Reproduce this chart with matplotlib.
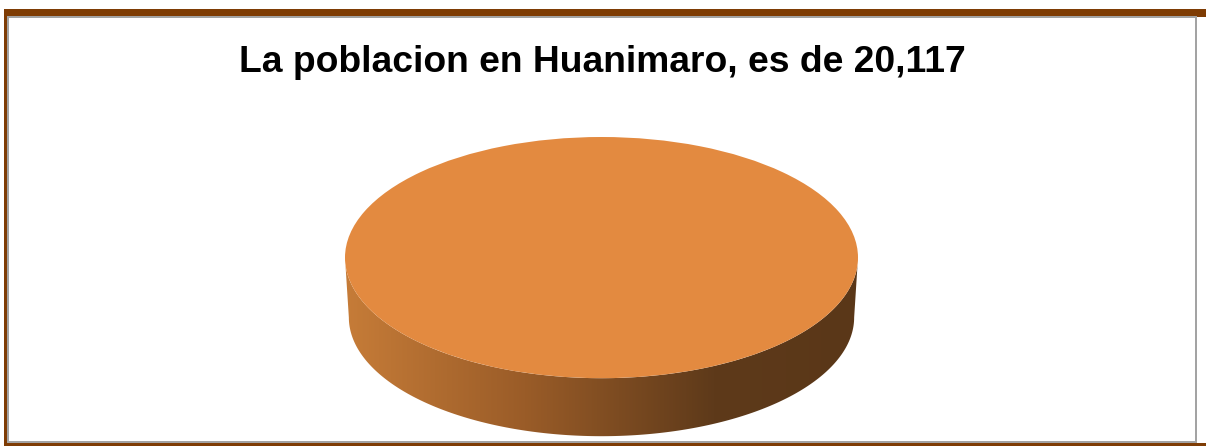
import matplotlib
matplotlib.use("Agg")
import matplotlib.pyplot as plt
import numpy as np
from matplotlib.patches import Rectangle, Polygon
from matplotlib.colors import LinearSegmentedColormap

# datos
categorias = ["Huanimaro"]
poblacion = [20117]
titulo = "La poblacion en Huanimaro, es de 20,117"

W, H = 1206, 446
fig = plt.figure(figsize=(W / 100, H / 100), dpi=100)
fig.patch.set_facecolor("white")

# marco de fondo en pixeles
fondo = fig.add_axes([0, 0, 1, 1])
fondo.set_xlim(0, W)
fondo.set_ylim(H, 0)
fondo.axis("off")
cafe = "#7E3C04"
gris = "#A3A3A3"
fondo.add_patch(Rectangle((4, 9), W - 4, 8, color=cafe, lw=0))
fondo.add_patch(Rectangle((4, 9), 4, H - 9, color=cafe, lw=0))
fondo.add_patch(Rectangle((4, 443), W - 4, 3, color=cafe, lw=0))
fondo.add_patch(Rectangle((8, 16), 1189, 2, color=gris, lw=0))
fondo.add_patch(Rectangle((7, 16), 2, 427, color=gris, lw=0))
fondo.add_patch(Rectangle((1195, 16), 2, 427, color=gris, lw=0))
fondo.add_patch(Rectangle((8, 441), 1189, 2, color=gris, lw=0))

fondo.text(602, 63, titulo, ha="center", va="center", fontsize=26.8,
           fontweight="bold", family=["Liberation Sans", "DejaVu Sans"])

# pastel 3D (elipse con lado)
x0, x1 = 345, 858
y_top, y_bot = 137, 438
prof = 0.496  # grosor del lado en unidades del eje (radio vertical = 1)
ax = fig.add_axes([x0 / W, 1 - y_bot / H, (x1 - x0) / W, (y_bot - y_top) / H])
ax.set_xlim(-1, 1)
ax.set_ylim(-1 - prof, 1)
ax.axis("off")

# lado con degradado (un poco mas angosto abajo por la perspectiva)
t = np.linspace(np.pi, 2 * np.pi, 200)
borde_sup = np.column_stack([np.cos(t), np.sin(t)])
borde_inf = np.column_stack([0.985 * np.cos(t[::-1]), 0.985 * np.sin(t[::-1]) - prof])
lado = Polygon(np.vstack([borde_sup, borde_inf]), closed=True,
               transform=ax.transData, facecolor="none", edgecolor="none")
ax.add_patch(lado)
cmap = LinearSegmentedColormap.from_list(
    "lado", [(0, "#C67C38"), (0.35, "#9A5C28"), (0.72, "#5E3A1A"), (1, "#5A3718")])
grad = np.linspace(0, 1, 256).reshape(1, -1)
img = ax.imshow(grad, cmap=cmap, extent=[-1, 1, -1 - prof, 0.1],
                aspect="auto", zorder=1)
img.set_clip_path(lado)

ax.pie(poblacion, labels=None, colors=["#E38A40"], radius=1,
       startangle=90, wedgeprops=dict(linewidth=0, zorder=2))
ax.set_aspect("auto")
ax.set_xlim(-1, 1)
ax.set_ylim(-1 - prof, 1)

fig.savefig("out.png", dpi=100)
